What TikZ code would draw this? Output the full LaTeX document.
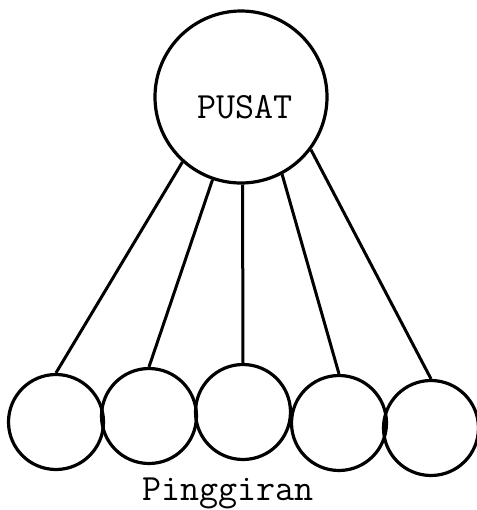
\documentclass[tikz,border=0pt]{standalone}
\begin{document}
\begin{tikzpicture}[x=0.5pt,y=-0.5pt]
	\tikzstyle{big node}=[circle,draw,line width=1.6pt,inner sep=0,minimum size=86pt]
	\tikzstyle{small node}=[circle,draw,line width=1.6pt,inner sep=0,minimum size=47.5pt]
	\tikzset{
		tw/.style={font=\fontsize{18.5}{20}\selectfont\ttfamily},
		spoke/.style={line width=1.5pt}
	}
	\useasboundingbox (0,0) rectangle (477,510);
	\node(pusat)[big node,label={[tw,name=pusatlabel,yshift=-5pt,xshift=2pt]center:PUSAT}] at (241,97){};
	\node(p1)[small node] at (56,422){};
	\node(p2)[small node] at (149,416){};
	\node(p3)[small node] at (243,412){};
	\node(p4)[small node] at (339,423){};
	\node(p5)[small node] at (431,428){};
	\node(pinggiran)[tw] at (228,493){Pinggiran};
	\draw[spoke] (pusat.228) -- (p1.north);
	\draw[spoke] (pusat.251) -- (p2.north);
	\draw[spoke] (pusat.271) -- (p3.north);
	\draw[spoke] (pusat.298) -- (p4.north);
	\draw[spoke] (pusat.323) -- (p5.north);
\end{tikzpicture}
\end{document}
